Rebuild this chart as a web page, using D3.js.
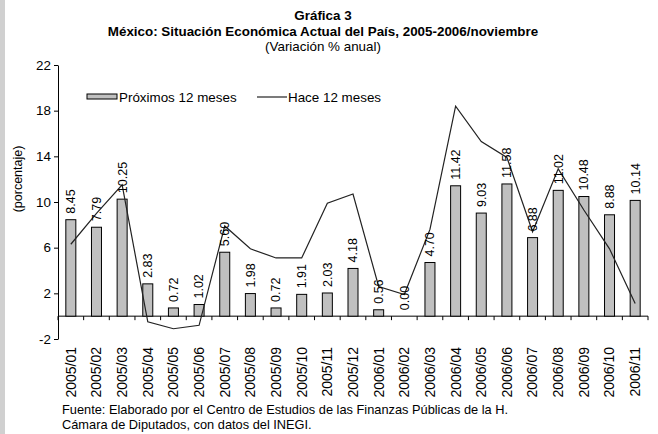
<!DOCTYPE html>
<html>
<head>
<meta charset="utf-8">
<script src="https://cdn.jsdelivr.net/npm/d3@7"></script>
<style>
  body { margin: 0; background: #fff; }
  svg { display: block; font-family: "Liberation Sans", Arial, sans-serif; }
</style>
</head>
<body>
<div id="chart"></div>
<script>
// datos de la grafica
var months = ["2005/01","2005/02","2005/03","2005/04","2005/05","2005/06","2005/07","2005/08",
  "2005/09","2005/10","2005/11","2005/12","2006/01","2006/02","2006/03","2006/04","2006/05",
  "2006/06","2006/07","2006/08","2006/09","2006/10","2006/11"];
var proximos = [8.45, 7.79, 10.25, 2.83, 0.72, 1.02, 5.60, 1.98, 0.72, 1.91, 2.03, 4.18,
  0.56, 0.00, 4.70, 11.42, 9.03, 11.58, 6.88, 11.02, 10.48, 8.88, 10.14];
var hace = [6.3, 9.0, 11.5, -0.5, -1.1, -0.8, 7.9, 5.9, 5.1, 5.1, 9.9, 10.7,
  2.6, 1.9, 7.6, 18.4, 15.3, 13.9, 7.4, 12.9, 9.3, 5.9, 1.1];
var yTicks = [-2, 2, 6, 10, 14, 18, 22];

var W = 658, H = 434;
var svg = d3.select("#chart").append("svg").attr("width", W).attr("height", H);

// franja gris a la izquierda
svg.append("rect").attr("x", 0).attr("y", 0).attr("width", 5).attr("height", H).attr("fill", "#d0d0d0");

var x = d3.scaleBand().domain(months).range([58, 648]).paddingInner(0.61).paddingOuter(0.305);
var y = d3.scaleLinear().domain([-2, 22]).range([339, 65]);

// titulos
svg.append("text").attr("x", 323).attr("y", 20).attr("text-anchor", "middle")
  .attr("font-size", 13.4).attr("font-weight", "bold").text("Gráfica 3");
svg.append("text").attr("x", 323).attr("y", 36).attr("text-anchor", "middle")
  .attr("font-size", 13.4).attr("font-weight", "bold")
  .text("México: Situación Económica Actual del País, 2005-2006/noviembre");
svg.append("text").attr("x", 323).attr("y", 51).attr("text-anchor", "middle")
  .attr("font-size", 13.4).text("(Variación % anual)");

// eje y
var yAxis = svg.append("g").attr("transform", "translate(58,0)")
  .call(d3.axisLeft(y).tickValues(yTicks).tickSize(4).tickPadding(3).tickSizeOuter(0)
    .tickFormat(function(d) { return String(d); }));
yAxis.select(".domain").attr("stroke", "#000");
yAxis.selectAll("text").attr("font-size", 13.4).attr("font-family", "Liberation Sans, Arial");

svg.append("text").attr("transform", "translate(22,179) rotate(-90)")
  .attr("text-anchor", "middle").attr("font-size", 12.5).text("(porcentaje)");

// eje x en cero
var bounds = months.map(function(m) { return x(m) - x.step() * x.paddingInner() / 2; });
bounds.push(648);
svg.append("line").attr("x1", 58).attr("x2", 648).attr("y1", y(0)).attr("y2", y(0)).attr("stroke", "#000");
svg.selectAll(".xtick").data(bounds).enter().append("line")
  .attr("x1", function(d) { return d; }).attr("x2", function(d) { return d; })
  .attr("y1", y(0)).attr("y2", y(0) + 4).attr("stroke", "#000");

svg.selectAll(".xlab").data(months).enter().append("text")
  .attr("transform", function(d) { return "translate(" + (x(d) + x.bandwidth() / 2) + ",347) rotate(-90)"; })
  .attr("text-anchor", "end").attr("dy", "0.35em").attr("font-size", 14)
  .text(function(d) { return d; });

// barras
svg.selectAll(".bar").data(proximos).enter().append("rect")
  .attr("x", function(d, i) { return x(months[i]); })
  .attr("width", x.bandwidth())
  .attr("y", function(d) { return y(d); })
  .attr("height", function(d) { return y(0) - y(d); })
  .attr("fill", "#c0c0c0").attr("stroke", "#000").attr("stroke-width", 1);

// linea
var line = d3.line()
  .x(function(d, i) { return x(months[i]) + x.bandwidth() / 2; })
  .y(function(d) { return y(d); });
svg.append("path").datum(hace).attr("d", line)
  .attr("fill", "none").attr("stroke", "#222").attr("stroke-width", 1.2);

// etiquetas de valor
svg.selectAll(".val").data(proximos).enter().append("text")
  .attr("transform", function(d, i) {
    return "translate(" + (x(months[i]) + x.bandwidth() / 2) + "," + (y(d) - 6) + ") rotate(-90)";
  })
  .attr("dy", "0.35em").attr("font-size", 12.5)
  .text(function(d) { return d.toFixed(2); });

// leyenda
svg.append("rect").attr("x", 87).attr("y", 94).attr("width", 30).attr("height", 5)
  .attr("fill", "#c0c0c0").attr("stroke", "#000");
svg.append("text").attr("x", 119).attr("y", 102).attr("font-size", 13.4).text("Próximos 12 meses");
svg.append("line").attr("x1", 257).attr("x2", 287).attr("y1", 97).attr("y2", 97)
  .attr("stroke", "#222").attr("stroke-width", 1.2);
svg.append("text").attr("x", 288).attr("y", 102).attr("font-size", 13.4).text("Hace 12 meses");

// fuente
svg.append("text").attr("x", 62).attr("y", 414).attr("font-size", 12.8)
  .text("Fuente: Elaborado por el Centro de Estudios de las Finanzas Públicas de la H.");
svg.append("text").attr("x", 62).attr("y", 429).attr("font-size", 12.8)
  .text("Cámara de Diputados, con datos del INEGI.");
</script>
</body>
</html>
